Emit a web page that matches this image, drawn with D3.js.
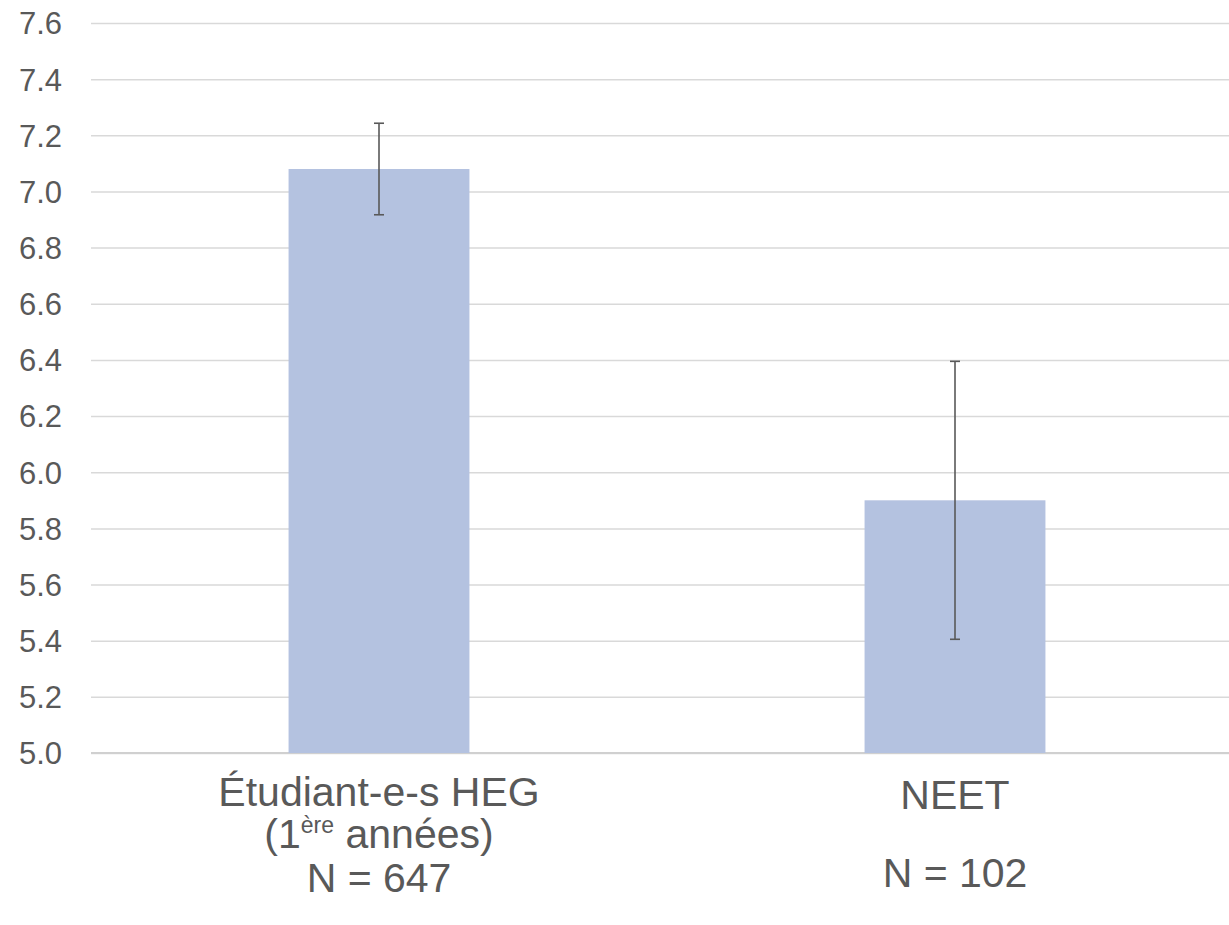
<!DOCTYPE html>
<html>
<head>
<meta charset="utf-8">
<script src="https://cdn.jsdelivr.net/npm/d3@7"></script>
<style>
  html, body { margin: 0; padding: 0; background: #ffffff; }
  svg { display: block; font-family: "Liberation Sans", Arial, sans-serif; }
</style>
</head>
<body>
<svg id="chart" width="1229" height="925"></svg>
<script>
// ---- data ----
const categories = ["Étudiant-e-s HEG", "NEET"];
const means = [7.08, 5.90];
const errors = [0.163, 0.495];
const sampleSizes = [647, 102];
const yTicks = [5.0, 5.2, 5.4, 5.6, 5.8, 6.0, 6.2, 6.4, 6.6, 6.8, 7.0, 7.2, 7.4, 7.6];

(function () {
// ---- layout ----
const svg = d3.select("#chart");
const plotLeft = 91, plotRight = 1243, plotTop = 23, plotBottom = 753;
const textColor = "#595959";

const x = d3.scaleBand().domain(categories).range([plotLeft, plotRight])
  .paddingInner(0.686).paddingOuter(0.343);
const y = d3.scaleLinear().domain([5.0, 7.6]).range([plotBottom, plotTop]);

// gridlines + y tick labels
const yAxis = d3.axisLeft(y)
  .tickValues(yTicks)
  .tickFormat(d3.format(".1f"))
  .tickSize(-(plotRight - plotLeft))
  .tickPadding(29);

const gy = svg.append("g").attr("transform", `translate(${plotLeft},0)`).call(yAxis);
gy.select(".domain").remove();
gy.selectAll(".tick line").attr("stroke", "#d9d9d9").attr("stroke-width", 1.5);
gy.selectAll(".tick text")
  .attr("fill", textColor)
  .attr("font-size", 31)
  .attr("font-family", "'Liberation Sans', Arial, sans-serif")
  .attr("dy", "0.35em");

// baseline axis
svg.append("line")
  .attr("x1", plotLeft).attr("x2", plotRight)
  .attr("y1", y(5.0)).attr("y2", y(5.0))
  .attr("stroke", "#d0d0d0").attr("stroke-width", 2);

// bars
svg.selectAll("rect.bar")
  .data(categories)
  .join("rect")
  .attr("class", "bar")
  .attr("x", d => x(d))
  .attr("width", x.bandwidth())
  .attr("y", (d, i) => y(means[i]))
  .attr("height", (d, i) => y(5.0) - y(means[i]))
  .attr("fill", "#b4c2e0");

// error bars
const capHalf = 5;
const eg = svg.selectAll("g.err").data(categories).join("g").attr("class", "err")
  .attr("stroke", "#595959").attr("stroke-width", 1.6);
eg.append("line")
  .attr("x1", d => x(d) + x.bandwidth() / 2)
  .attr("x2", d => x(d) + x.bandwidth() / 2)
  .attr("y1", (d, i) => y(means[i] + errors[i]))
  .attr("y2", (d, i) => y(means[i] - errors[i]));
eg.append("line")
  .attr("x1", d => x(d) + x.bandwidth() / 2 - capHalf)
  .attr("x2", d => x(d) + x.bandwidth() / 2 + capHalf)
  .attr("y1", (d, i) => y(means[i] + errors[i]))
  .attr("y2", (d, i) => y(means[i] + errors[i]));
eg.append("line")
  .attr("x1", d => x(d) + x.bandwidth() / 2 - capHalf)
  .attr("x2", d => x(d) + x.bandwidth() / 2 + capHalf)
  .attr("y1", (d, i) => y(means[i] - errors[i]))
  .attr("y2", (d, i) => y(means[i] - errors[i]));

// category labels
const fs = 41;
const c0 = x(categories[0]) + x.bandwidth() / 2;
const c1 = x(categories[1]) + x.bandwidth() / 2;

const lab = svg.append("g")
  .attr("fill", textColor)
  .attr("font-size", fs)
  .attr("text-anchor", "middle");

// label 1
lab.append("text").attr("x", c0).attr("y", 806).text(categories[0]);
const l2 = lab.append("text").attr("x", c0).attr("y", 848);
l2.append("tspan").text("(1");
l2.append("tspan").attr("font-size", 23).attr("dy", -15).text("ère");
l2.append("tspan").attr("dy", 15).text(" années)");
lab.append("text").attr("x", c0).attr("y", 892).text(`N = ${sampleSizes[0]}`);

// label 2
lab.append("text").attr("x", c1).attr("y", 809).text(categories[1]);
lab.append("text").attr("x", c1).attr("y", 887).text(`N = ${sampleSizes[1]}`);
})();
</script>
</body>
</html>
